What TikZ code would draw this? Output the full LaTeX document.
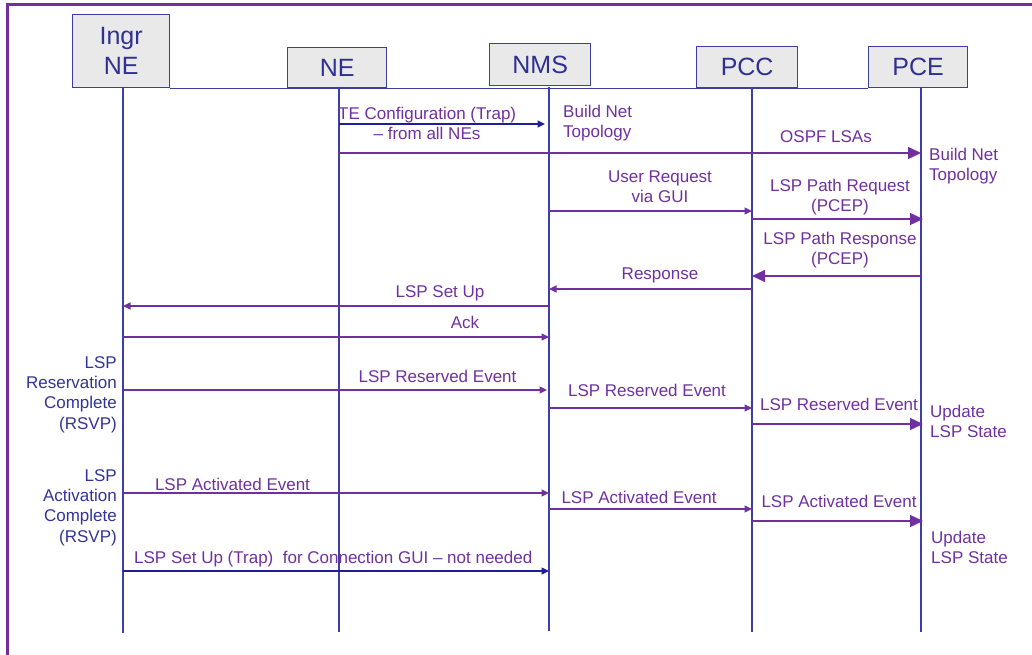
\documentclass[tikz,border=0pt]{standalone}
\usepackage{fontspec}
\setmainfont{Liberation Sans}
\usetikzlibrary{arrows.meta}

\definecolor{frameviolet}{RGB}{112,48,160}
\definecolor{msgviolet}{RGB}{112,48,160}
\definecolor{trapblue}{RGB}{30,30,150}
\definecolor{lifeblue}{RGB}{62,62,168}
\definecolor{boxline}{RGB}{62,62,160}
\definecolor{boxfill}{RGB}{233,233,233}
\definecolor{boxtext}{RGB}{46,49,146}
\definecolor{notetext}{RGB}{51,51,153}

\begin{document}
\begin{tikzpicture}[x=1pt,y=-1pt,
  entity/.style={draw=boxline, fill=boxfill, line width=1.3pt, inner sep=0pt,
    font=\fontsize{25}{30}\selectfont, text=boxtext, align=center, anchor=north west},
  lifeline/.style={draw=lifeblue, line width=1.2pt},
  msg/.style={draw=msgviolet, line width=1.3pt},
  trap/.style={draw=trapblue, line width=1.3pt},
  small/.style={-{Triangle[length=7.5pt,width=7pt]}},
  big/.style={-{Triangle[length=13pt,width=12pt]}},
  lbl/.style={font=\fontsize{17}{20}\selectfont, text=msgviolet, inner sep=0pt},
  note/.style={font=\fontsize{17}{20.4}\selectfont, text=notetext, inner sep=0pt,
    align=right, anchor=north east},
]
\useasboundingbox (0,0) rectangle (1032,655);
\clip (0,0) rectangle (1032,655);

% outer frame (runs off the right and bottom edges)
\draw[frameviolet, line width=3pt] (7.5,680) -- (7.5,5) -- (1050,5);

% participants
\node[entity, minimum width=97pt, minimum height=73pt] (ingr) at (72,14) {Ingr\\NE};
\node[entity, minimum width=99pt, minimum height=40pt] (ne) at (287,47) {NE};
\node[entity, minimum width=101pt, minimum height=42pt] (nms) at (489,43) {NMS};
\node[entity, minimum width=101pt, minimum height=41pt] (pcc) at (696,46) {PCC};
\node[entity, minimum width=99pt, minimum height=41pt] (pce) at (868,46) {PCE};

% baseline rule under the participant boxes
\draw[draw=boxline, line width=1.2pt] (ingr.south east) -- (pce.south west);

% lifelines
\coordinate (Lingr) at (123,87);  \coordinate (Lingrend) at (123,633);
\coordinate (Lne)   at (339,87);  \coordinate (Lneend)   at (339,632);
\coordinate (Lnms)  at (549,87);  \coordinate (Lnmsend)  at (549,631);
\coordinate (Lpcc)  at (752,87);  \coordinate (Lpccend)  at (752,632);
\coordinate (Lpce)  at (921,87);  \coordinate (Lpceend)  at (921,632);
\foreach \a/\b in {Lingr/Lingrend, Lne/Lneend, Lnms/Lnmsend, Lpcc/Lpccend, Lpce/Lpceend}
  \draw[lifeline] (\a) -- (\b);

% messages
\draw[trap, small, shorten >=4pt] (Lne |- 0,124) -- (Lnms |- 0,124);
\draw[msg, big] (Lne |- 0,153) -- (Lpce |- 0,153);
\draw[msg, small] (Lnms |- 0,211) -- (Lpcc |- 0,211);
\draw[msg, big, shorten >=-2pt] (Lpcc |- 0,219) -- (Lpce |- 0,219);
\draw[msg, big] (Lpce |- 0,276) -- (Lpcc |- 0,276);
\draw[msg, small] (Lpcc |- 0,289) -- (Lnms |- 0,289);
\draw[msg, small] (Lnms |- 0,306) -- (Lingr |- 0,306);
\draw[msg, small] (Lingr |- 0,337) -- (Lnms |- 0,337);
\draw[msg, small, shorten >=2pt] (Lingr |- 0,390) -- (Lnms |- 0,390);
\draw[msg, small] (Lnms |- 0,408) -- (Lpcc |- 0,408);
\draw[msg, big, shorten >=-2pt] (Lpcc |- 0,424) -- (Lpce |- 0,424);
\draw[msg, small] (Lingr |- 0,493) -- (Lnms |- 0,493);
\draw[msg, small] (Lnms |- 0,509) -- (Lpcc |- 0,509);
\draw[msg, big, shorten >=-2pt] (Lpcc |- 0,521) -- (Lpce |- 0,521);
\draw[trap, small] (Lingr |- 0,571) -- (Lnms |- 0,571);

% message labels
\node[lbl, anchor=base west] (teconf) at (338,119.5) {TE Configuration (Trap)};
\node[lbl, anchor=base] (fromall) at (427,140) {– from all NEs};
\node[lbl, anchor=north west, align=left] (buildnms) at (563,103)
  {\strut Build Net\\\strut Topology};
\node[lbl, anchor=base] (ospf) at (826,143) {OSPF LSAs};
\node[lbl, anchor=north west, align=left] (buildpce) at (929,146)
  {\strut Build Net\\\strut Topology};
\node[lbl, anchor=north, align=center] (userreq) at (660,168)
  {\strut User Request\\\strut via GUI};
\node[lbl, anchor=north, align=center] (pathreq) at (840,177)
  {\strut LSP Path Request\\\strut (PCEP)};
\node[lbl, anchor=north, align=center] (pathresp) at (840,230)
  {\strut LSP Path Response\\\strut (PCEP)};
\node[lbl, anchor=base] (resp) at (660,279) {Response};
\node[lbl, anchor=base] (setup) at (440,297) {LSP Set Up};
\node[lbl, anchor=base] (ack) at (465,328) {Ack};
\node[lbl, anchor=base] (resa) at (437.5,382) {LSP Reserved Event};
\node[lbl, anchor=base] (resb) at (647,396) {LSP Reserved Event};
\node[lbl, anchor=base] (resc) at (839,410) {LSP Reserved Event};
\node[lbl, anchor=north west, align=left] (upda) at (930,403)
  {\strut Update\\\strut LSP State};
\node[lbl, anchor=base] (acta) at (232.5,490) {LSP Activated Event};
\node[lbl, anchor=base] (actb) at (639,503) {LSP Activated Event};
\node[lbl, anchor=base] (actc) at (839,507) {LSP Activated Event};
\node[lbl, anchor=north west, align=left] (updb) at (931,529)
  {\strut Update\\\strut LSP State};
\node[lbl, anchor=base west] (trapnote) at (134,563)
  {LSP Set Up (Trap)~ for Connection GUI – not needed};

% state notes beside the ingress lifeline
\node[note] (rsvpres) at (117,353.7)
  {\strut LSP\\\strut Reservation\\\strut Complete\\\strut (RSVP)};
\node[note] (rsvpact) at (117,466.7)
  {\strut LSP\\\strut Activation\\\strut Complete\\\strut (RSVP)};
\end{tikzpicture}
\end{document}
